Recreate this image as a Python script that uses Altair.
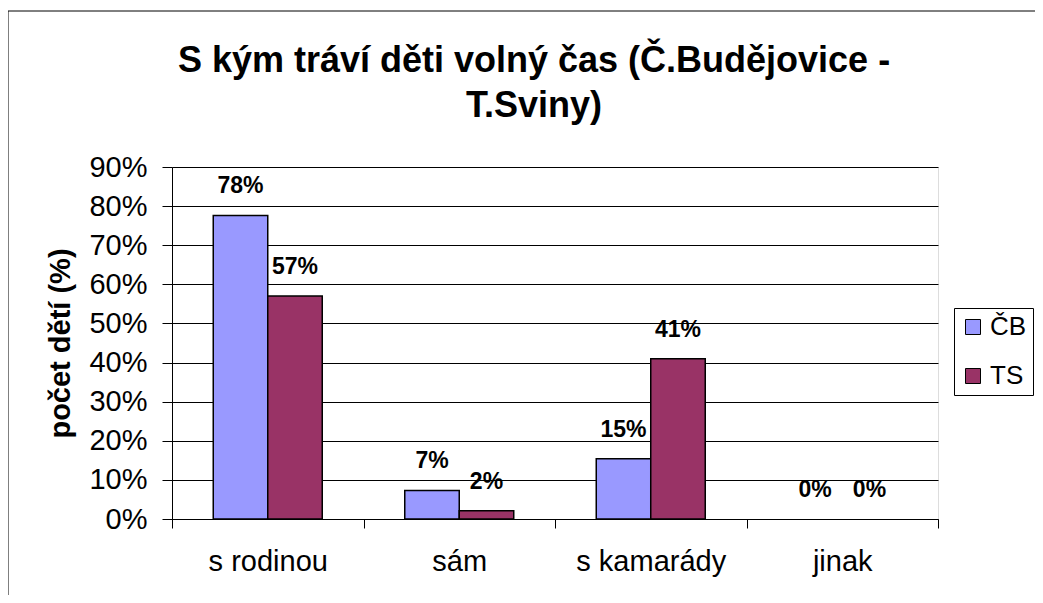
import altair as alt
import pandas as pd

# ---- data ----
categories = ["s rodinou", "sám", "s kamarády", "jinak"]
series = ["ČB", "TS"]
cb_values = [0.776, 0.073, 0.154, 0.0]
ts_values = [0.57, 0.021, 0.41, 0.0]
series_colors = ["#9999FF", "#993366"]
y_ticks = [0.0, 0.1, 0.2, 0.3, 0.4, 0.5, 0.6, 0.7, 0.8, 0.9]
title_lines = ["S kým tráví děti volný čas (Č.Budějovice -", "T.Sviny)"]
y_title = "počet dětí (%)"

rows = []
for i, c in enumerate(categories):
    rows.append({"kategorie": c, "skupina": series[0], "podil": cb_values[i]})
    rows.append({"kategorie": c, "skupina": series[1], "podil": ts_values[i]})
df = pd.DataFrame(rows)

FONT = "Liberation Sans, Arial, sans-serif"

x_enc = alt.X(
    "kategorie:N",
    sort=categories,
    scale=alt.Scale(paddingInner=0, paddingOuter=0),
    axis=alt.Axis(
        title=None, labelAngle=0, tickBand="extent", tickSize=9,
        tickColor="black", domainColor="black", labelFontSize=29,
        labelFont=FONT, labelColor="black", labelPadding=19, grid=False,
    ),
)
xo_enc = alt.XOffset(
    "skupina:N", sort=series,
    scale=alt.Scale(paddingInner=0, paddingOuter=0.757),
)
y_enc = alt.Y(
    "podil:Q",
    scale=alt.Scale(domain=[0, 0.9], nice=False),
    axis=alt.Axis(
        title=y_title, format=".0%", values=y_ticks, labelOverlap=False,
        tickSize=10, tickColor="black", domainColor="black",
        labelFontSize=29, labelFont=FONT, labelColor="black", labelPadding=15,
        grid=True, gridColor="black", gridWidth=1,
        titleFont=FONT, titleFontSize=29, titleFontWeight="bold",
        titleColor="black", titleAngle=270, titleAlign="center",
        titleBaseline="middle", titleX=-112, titleY=176,
    ),
)
color_enc = alt.Color(
    "skupina:N",
    sort=series,
    scale=alt.Scale(domain=series, range=series_colors),
    legend=alt.Legend(
        title=None, orient="none", legendX=782, legendY=141,
        symbolType="square", symbolSize=225, symbolStrokeColor="black",
        symbolStrokeWidth=1, labelFontSize=26, labelFont=FONT,
        labelColor="black", strokeColor="black", fillColor="white",
        padding=6, rowPadding=23, labelOffset=4,
    ),
)

base = alt.Chart(df)

bars = base.mark_bar(stroke="black").encode(
    x=x_enc, xOffset=xo_enc, y=y_enc, color=color_enc,
    strokeWidth=alt.condition("datum.podil > 0", alt.value(1.5), alt.value(0)),
)

labels = base.mark_text(
    baseline="alphabetic", dy=-22, fontSize=23, fontWeight="bold",
    font=FONT, color="black",
).encode(
    x=x_enc,
    xOffset=xo_enc,
    y=y_enc,
    text=alt.Text("podil:Q", format=".0%"),
)

frame = alt.Chart(pd.DataFrame({"f": [0]})).mark_rect(
    fillOpacity=0, stroke="black", strokeWidth=1
).encode(
    x=alt.value(-164), x2=alt.value(900), y=alt.value(-156), y2=alt.value(450)
)

chart = alt.layer(frame, bars, labels).properties(
    width=766,
    height=352,
    title=alt.TitleParams(
        title_lines, fontSize=36, font=FONT, fontWeight="bold",
        lineHeight=45, anchor="middle", dx=-21, offset=-114, color="black",
    ),
    autosize=alt.AutoSizeParams(type="none"),
    padding={"left": 164, "top": 159, "right": 97, "bottom": 76},
).configure_view(
    fill="#C0C0C0", stroke="#808080", strokeWidth=1
).configure(background="white")

chart.save("out.html", embed_options={"renderer": "svg", "actions": False})
